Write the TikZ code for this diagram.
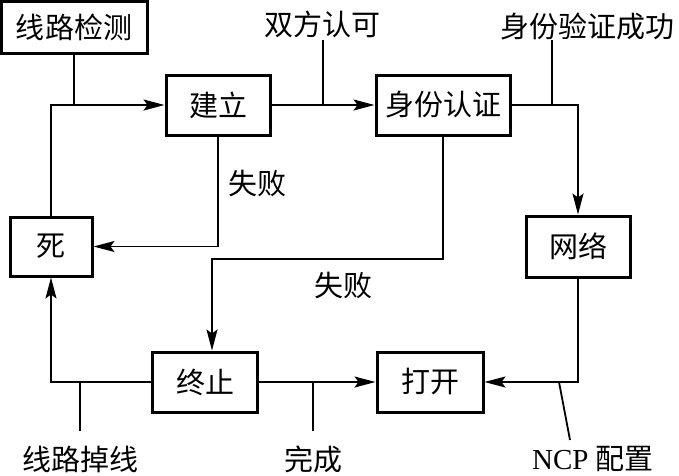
\documentclass[tikz,border=0pt]{standalone}
\usepackage{fontspec}
\setmainfont{Liberation Serif}
\newfontfamily\cjk{Noto Sans CJK SC}
\usetikzlibrary{arrows.meta}
\begin{document}
\begin{tikzpicture}[x=1pt,y=-1pt,
  box/.style={draw,line width=3pt,inner sep=0pt,font=\cjk\fontsize{29}{31}\selectfont},
  lbl/.style={inner sep=0pt,font=\cjk\fontsize{29}{31}\selectfont},
  conn/.style={line width=1.8pt},
  arr/.style={conn,-{Stealth[length=21pt,width=11pt,inset=4pt]}}]
\useasboundingbox (0,0) rectangle (679,475);
% boxes
\node[box,minimum width=146pt,minimum height=52pt] (det) at (74,27) {线路检测};
\node[box,minimum width=104pt,minimum height=60pt] (jl) at (218,105) {建立};
\node[box,minimum width=134pt,minimum height=60pt] (sf) at (443,105) {身份认证};
\node[box,minimum width=82pt,minimum height=59pt] (si) at (51,246.5) {死};
\node[box,minimum width=104pt,minimum height=61pt] (wl) at (578,246.5) {网络};
\node[box,minimum width=105pt,minimum height=60pt] (zz) at (205,382) {终止};
\node[box,minimum width=106pt,minimum height=60pt] (dk) at (430,382) {打开};
% labels
\node[lbl] (l1) at (322,24) {双方认可};
\node[lbl] (l2) at (587,26) {身份验证成功};
\node[lbl] (l3) at (257,183) {失败};
\node[lbl] (l4) at (343,285) {失败};
\node[lbl] (l5) at (80,459) {线路掉线};
\node[lbl] (l6) at (313,459) {完成};
\node[inner sep=0pt,font=\fontsize{29}{31}\selectfont] (l7) at (593,459) {NCP {\cjk 配置}};
% tick coordinates
\coordinate (t1) at (323,40);
\coordinate (t2) at (552,40);
\coordinate (t3) at (80,431);
\coordinate (t4) at (313,431);
\coordinate (t5) at (570,440);
\coordinate (c2) at (330,259);
% connectors
\draw[arr] (si.north) |- (jl.west);
\draw[conn] (det.south) -- (det.south |- jl.west);
\draw[arr] (jl.east) -- (sf.west);
\draw[conn] (t1) -- (t1 |- jl.east);
\draw[arr] (jl.south) |- (si.east);
\draw[arr] (sf.east) -| (wl.north);
\draw[conn] (t2) -- (t2 |- sf.east);
\draw[arr] (sf.south) |- (c2) -| ([xshift=7pt]zz.north);
\draw[arr] (wl.south) |- (dk.east);
\draw[conn] (t5) -- (559,382);
\draw[arr] (zz.east) -- (dk.west);
\draw[conn] (t4) -- (t4 |- zz.east);
\draw[arr] (zz.west) -| (si.south);
\draw[conn] (t3) -- (t3 |- zz.west);
\end{tikzpicture}
\end{document}
